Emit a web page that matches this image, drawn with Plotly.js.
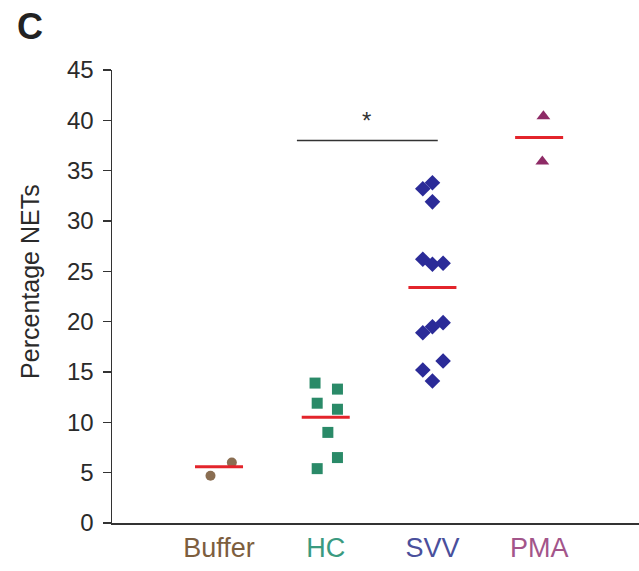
<!DOCTYPE html>
<html>
<head>
<meta charset="utf-8">
<script src="https://cdn.plot.ly/plotly-3.0.1.min.js"></script>
<style>html,body{margin:0;padding:0;background:#fff;}#chart{width:639px;height:571px;}</style>
</head>
<body>
<div id="chart"></div>
<script>
// Categories and tick labels
const categories = ["Buffer", "HC", "SVV", "PMA"];
const labelColors = ["#7d5e3e", "#3a9a80", "#4a4f9c", "#a3558a"];
const markerColors = ["#8a6e52", "#2a8a68", "#2b2b98", "#8e2b66"];
const markerSymbols = ["circle", "square", "diamond", "triangle-up"];
const yTitle = "Percentage NETs";
const panelLabel = "C";

// Values (Percentage NETs)
const bufferValues = [6.0, 4.7];
const bufferJitter = [0.12, -0.08];
const hcValues = [13.9, 13.3, 11.9, 11.3, 9.0, 6.5, 5.4];
const hcJitter = [-0.10, 0.11, -0.08, 0.11, 0.02, 0.11, -0.08];
const svvValues = [33.8, 33.2, 31.9, 26.2, 25.7, 25.8, 19.9, 19.5, 18.9, 16.1, 15.2, 14.1];
const svvJitter = [0.0, -0.09, 0.0, -0.09, 0.0, 0.10, 0.10, 0.0, -0.09, 0.10, -0.09, 0.0];
const pmaValues = [40.4, 35.9];
const pmaJitter = [0.04, 0.03];

// Group means (red bars)
const means = [5.6, 10.5, 23.4, 38.3];

// Significance bracket HC vs SVV
const sigLevel = 38.0;
const sigFrom = 0.73;
const sigTo = 2.05;
const sigText = "*";

const groups = [
  {values: bufferValues, jitter: bufferJitter},
  {values: hcValues, jitter: hcJitter},
  {values: svvValues, jitter: svvJitter},
  {values: pmaValues, jitter: pmaJitter}
];
const sizes = [10, 11, 12, 12];

const traces = [];
groups.forEach((g, i) => {
  traces.push({
    type: "scatter", mode: "markers",
    x: g.values.map((v, k) => i + g.jitter[k]),
    y: g.values,
    marker: {symbol: markerSymbols[i], color: markerColors[i], size: sizes[i], line: {width: 0}},
    showlegend: false, hoverinfo: "y"
  });
});
means.forEach((m, i) => {
  traces.push({
    type: "scatter", mode: "lines",
    x: [i - 0.225, i + 0.225], y: [m, m],
    line: {color: "#e3242b", width: 3},
    showlegend: false, hoverinfo: "skip"
  });
});
traces.push({
  type: "scatter", mode: "lines",
  x: [sigFrom, sigTo], y: [sigLevel, sigLevel],
  line: {color: "#333333", width: 1.5},
  showlegend: false, hoverinfo: "skip"
});

const layout = {
  width: 639, height: 571,
  margin: {l: 112, r: 0, t: 70, b: 48, pad: 0},
  paper_bgcolor: "#ffffff", plot_bgcolor: "#ffffff",
  font: {family: "Liberation Sans, Arial, sans-serif", color: "#2a2a2a"},
  title: {text: "<b>" + panelLabel + "</b>", x: 30 / 639, xanchor: "center", y: 1 - 26 / 571, yanchor: "middle",
          font: {size: 36, color: "#222222", family: "Liberation Sans, Arial, sans-serif"}},
  xaxis: {
    range: [-1.003, 3.936], showgrid: false, zeroline: false,
    showline: true, linecolor: "#333333", linewidth: 1.5,
    tickmode: "array", tickvals: [0, 1, 2, 3],
    ticktext: categories.map((c, i) => '<span style="color:' + labelColors[i] + '">' + c + '</span>'),
    ticks: "", tickfont: {size: 27}, automargin: false, fixedrange: true
  },
  yaxis: {
    range: [0, 45], showgrid: false, zeroline: false,
    showline: true, linecolor: "#333333", linewidth: 1.5,
    tickmode: "array", tickvals: [0, 5, 10, 15, 20, 25, 30, 35, 40, 45],
    ticks: "outside", ticklen: 8, tickwidth: 1.5, tickcolor: "#333333",
    tickfont: {size: 24, color: "#2a2a2a"}, ticklabelstandoff: 4,
    automargin: false, fixedrange: true
  },
  annotations: [{
    x: (sigFrom + sigTo) / 2 - 0.01, y: 40.0, xref: "x", yref: "y",
    text: sigText, showarrow: false, font: {size: 24, color: "#333333"},
    xanchor: "center", yanchor: "middle"
  }, {
    x: -0.156, y: 0.534, xref: "paper", yref: "paper",
    text: yTitle, textangle: -90, showarrow: false,
    font: {size: 25, color: "#2a2a2a"}, xanchor: "center", yanchor: "middle"
  }]
};

Plotly.newPlot("chart", traces, layout, {displayModeBar: false, staticPlot: true});
</script>
</body>
</html>
